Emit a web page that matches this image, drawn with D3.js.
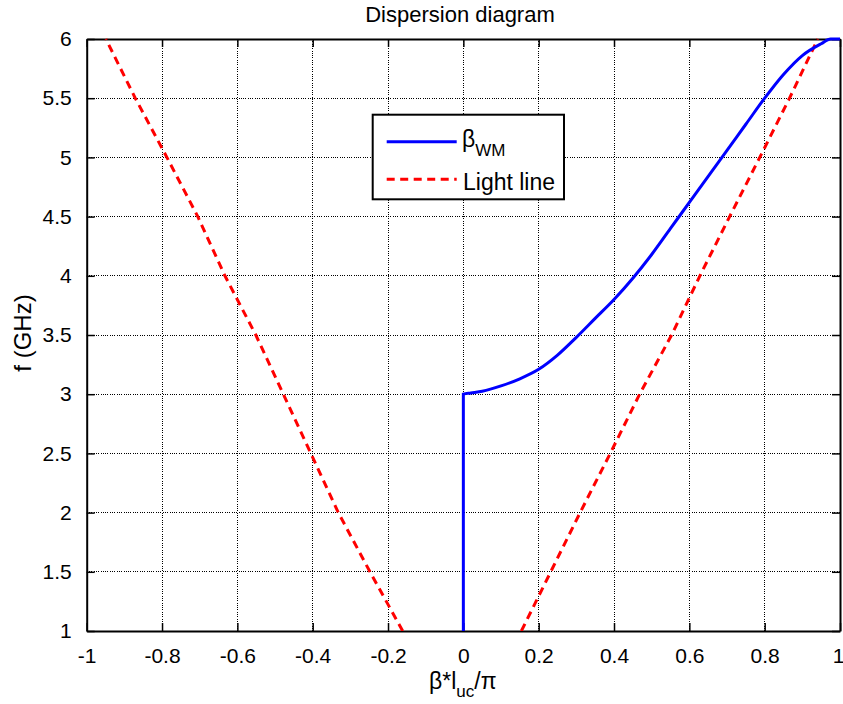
<!DOCTYPE html>
<html>
<head>
<meta charset="utf-8">
<script src="https://cdn.jsdelivr.net/npm/d3@7"></script>
<style>
  html, body { margin: 0; padding: 0; background: #fff; }
  svg { display: block; font-family: "Liberation Sans", Arial, Helvetica, sans-serif; }
</style>
</head>
<body>
<svg id="chart" width="843" height="704"></svg>
<script>
// Light line: frequency samples (GHz) and the normalised phase on each branch
const lightFreq   = [1, 1.5, 2, 2.5, 3, 3.5, 4, 4.5, 5, 5.5, 6];
const lightLeftX  = [-0.161, -0.248, -0.332, -0.405, -0.478, -0.551, -0.633, -0.705, -0.787, -0.871, -0.949];
const lightRightX = [0.154, 0.232, 0.310, 0.390, 0.468, 0.553, 0.628, 0.707, 0.787, 0.866, 0.941];

// Waveguide-mode branch (beta_WM): normalised phase and frequency (GHz)
const wmBeta = [0, 0, 0.02, 0.05, 0.10, 0.15, 0.20, 0.25, 0.30, 0.35, 0.40, 0.45, 0.50, 0.55, 0.60, 0.65, 0.70, 0.75, 0.80, 0.85, 0.90, 0.95, 0.975, 1.0];
const wmFreq = [1, 3.0, 3.01, 3.025, 3.07, 3.13, 3.21, 3.33, 3.48, 3.64, 3.80, 3.98, 4.18, 4.40, 4.62, 4.84, 5.06, 5.28, 5.50, 5.70, 5.86, 5.96, 6.0, 6.0];

// Axis ticks
const xTicks = [-1, -0.8, -0.6, -0.4, -0.2, 0, 0.2, 0.4, 0.6, 0.8, 1];
const yTicks = [1, 1.5, 2, 2.5, 3, 3.5, 4, 4.5, 5, 5.5, 6];

const svg = d3.select("#chart");
const L = 86.7, R = 840, T = 39, B = 631;

const x = d3.scaleLinear().domain([-1, 1]).range([L, R]);
const y = d3.scaleLinear().domain([1, 6]).range([B, T]);

// Dotted grid
const grid = svg.append("g").attr("stroke", "#000").attr("stroke-width", 1)
  .attr("stroke-dasharray", "1,1.3").attr("shape-rendering", "crispEdges");
grid.selectAll("line.gx").data(xTicks.slice(1, -1)).join("line")
  .attr("x1", d => x(d)).attr("x2", d => x(d)).attr("y1", T).attr("y2", B);
grid.selectAll("line.gy").data(yTicks.slice(1, -1)).join("line")
  .attr("x1", L).attr("x2", R).attr("y1", d => y(d)).attr("y2", d => y(d));

// Axes with inward ticks on all four sides
const fmt = d => String(d);
const tickFont = g => g.selectAll("text").attr("font-size", 21).attr("fill", "#000")
  .attr("font-family", '"Liberation Sans", Arial, sans-serif');
const styleAxis = g => {
  g.selectAll(".domain").attr("stroke", "#000").attr("stroke-width", 2);
  g.selectAll(".tick line").attr("stroke", "#000").attr("stroke-width", 1.5);
};

const xAxisG = svg.append("g").attr("transform", `translate(0,${B})`)
  .call(d3.axisBottom(x).tickValues(xTicks).tickFormat(fmt).tickSizeInner(-8).tickSizeOuter(0).tickPadding(17))
  .call(styleAxis).call(tickFont);
// keep the last label inside the canvas
xAxisG.selectAll(".tick text").filter(d => d === 1).attr("dx", -2);

svg.append("g").attr("transform", `translate(0,${T})`)
  .call(d3.axisTop(x).tickValues(xTicks).tickFormat("").tickSizeInner(-8).tickSizeOuter(0))
  .call(styleAxis);
svg.append("g").attr("transform", `translate(${L},0)`)
  .call(d3.axisLeft(y).tickValues(yTicks).tickFormat(fmt).tickSizeInner(-8).tickSizeOuter(0).tickPadding(15))
  .call(styleAxis).call(tickFont);
svg.append("g").attr("transform", `translate(${R},0)`)
  .call(d3.axisRight(y).tickValues(yTicks).tickFormat("").tickSizeInner(-8).tickSizeOuter(0))
  .call(styleAxis);

// Curves
svg.append("clipPath").attr("id", "plotclip").append("rect")
  .attr("x", L).attr("y", T - 2).attr("width", R - L).attr("height", B - T + 2);

const line = d3.line().x(d => x(d[0])).y(d => y(d[1]));
const plot = svg.append("g").attr("clip-path", "url(#plotclip)");

const lightLeft  = lightFreq.map((f, i) => [lightLeftX[i], f]);
const lightRight = lightFreq.map((f, i) => [lightRightX[i], f]);
const wm = wmBeta.map((b, i) => [b, wmFreq[i]]);

[lightLeft, lightRight].forEach(pts => {
  plot.append("path").datum(pts).attr("d", line)
    .attr("fill", "none").attr("stroke", "#ff0000").attr("stroke-width", 3)
    .attr("stroke-dasharray", "8,5.5");
});
plot.append("path").datum(wm).attr("d", d3.line().curve(d3.curveMonotoneX).x(d => x(d[0])).y(d => y(d[1])))
  .attr("fill", "none").attr("stroke", "#0000ff").attr("stroke-width", 3);

// Title
svg.append("text").attr("x", 460).attr("y", 22).attr("text-anchor", "middle")
  .attr("font-size", 22).text("Dispersion diagram");

// Axis labels
const xl = svg.append("text").attr("x", 429).attr("y", 689).attr("font-size", 23);
xl.append("tspan").text("β*l");
xl.append("tspan").attr("dy", 8).attr("font-size", 17).text("uc");
xl.append("tspan").attr("dy", -8).text("/π");

svg.append("text").attr("transform", "translate(31,333) rotate(-90)")
  .attr("text-anchor", "middle").attr("font-size", 24).text("f (GHz)");

// Legend
const lg = svg.append("g");
lg.append("rect").attr("x", 372.7).attr("y", 114.7).attr("width", 191.3).attr("height", 84.6)
  .attr("fill", "#fff").attr("stroke", "#000").attr("stroke-width", 2);
lg.append("line").attr("x1", 386.7).attr("x2", 456.7).attr("y1", 141.7).attr("y2", 141.7)
  .attr("stroke", "#0000ff").attr("stroke-width", 3);
lg.append("line").attr("x1", 386.7).attr("x2", 456.7).attr("y1", 179.3).attr("y2", 179.3)
  .attr("stroke", "#ff0000").attr("stroke-width", 3).attr("stroke-dasharray", "8,5.5");
const lt = lg.append("text").attr("x", 462).attr("y", 147).attr("font-size", 23);
lt.append("tspan").text("β");
lt.append("tspan").attr("dy", 9).attr("font-size", 17).text("WM");
lg.append("text").attr("x", 463).attr("y", 190).attr("font-size", 23).text("Light line");
</script>
</body>
</html>
